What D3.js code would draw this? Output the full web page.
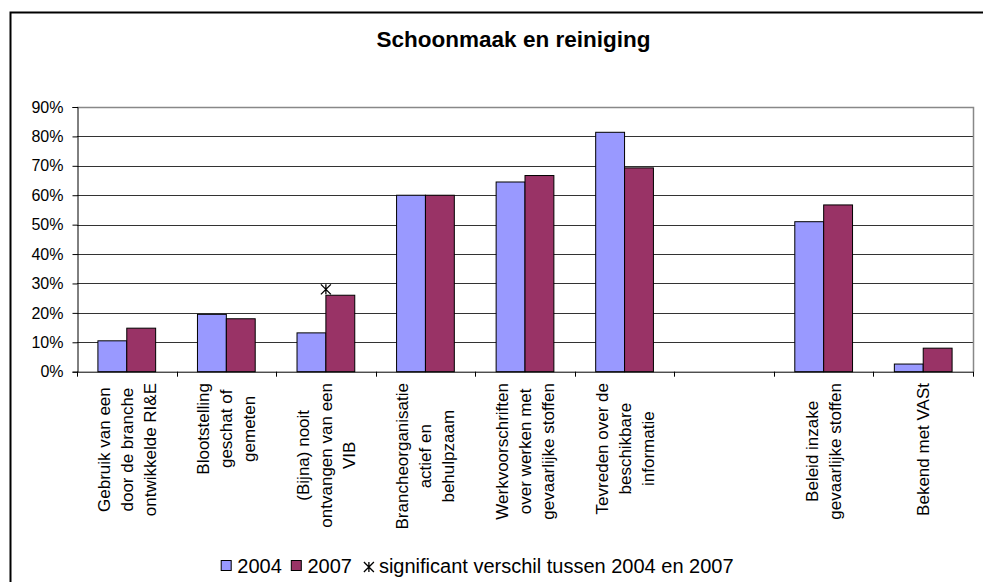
<html>
<head>
<title>Schoonmaak en reiniging</title>
<script src="https://d3js.org/d3.v7.min.js"></script>
<style>
  body { margin: 0; background: #fff; }
  text { font-family: "Liberation Sans", Arial, sans-serif; fill: #000; }
</style>
</head>
<body>
<div id="chart"></div>
<script>
// categories: each entry is the wrapped label lines
var categories = [
  ["Gebruik van een", "door de branche", "ontwikkelde RI&E"],
  ["Blootstelling", "geschat of", "gemeten"],
  ["(Bijna) nooit", "ontvangen van een", "VIB"],
  ["Brancheorganisatie", "actief en", "behulpzaam"],
  ["Werkvoorschriften", "over werken met", "gevaarlijke stoffen"],
  ["Tevreden over de", "beschikbare", "informatie"],
  [""],
  ["Beleid inzake", "gevaarlijke stoffen"],
  ["Bekend met VASt"]
];
var values2004 = [10.5, 19.5, 13.2, 60, 64.5, 81.4, null, 51, 2.6];
var values2007 = [14.8, 18, 26, 60, 66.7, 69.3, null, 56.7, 8];
// significant difference marker (percent position)
var significant = [null, null, 28, null, null, null, null, null, null];
var yTicks = [0, 10, 20, 30, 40, 50, 60, 70, 80, 90];
var seriesNames = ["2004", "2007"];
var colors = ["#9999FF", "#993366"];

var width = 983, height = 582;
var plot = {left: 77, right: 973, top: 107, bottom: 371.7};

var svg = d3.select("#chart").append("svg")
  .attr("width", width)
  .attr("height", height);

// outer chart border (right and bottom are off the picture)
svg.append("rect")
  .attr("x", 10.5).attr("y", 12.5)
  .attr("width", 1020).attr("height", 600)
  .attr("fill", "none").attr("stroke", "#000").attr("stroke-width", 2);

// title
svg.append("text")
  .attr("x", 513.5).attr("y", 47)
  .attr("text-anchor", "middle")
  .style("font-size", "22.5px").style("font-weight", "bold")
  .text("Schoonmaak en reiniging");

var x = d3.scaleBand()
  .domain(d3.range(categories.length))
  .range([plot.left, plot.right]);

var y = d3.scaleLinear()
  .domain([0, 90])
  .range([plot.bottom, plot.top]);

// gridlines
svg.append("g").selectAll("line")
  .data(yTicks.slice(1, -1))
  .enter().append("line")
  .attr("x1", plot.left).attr("x2", plot.right)
  .attr("y1", function(d) { return Math.round(y(d)) + 0.5; })
  .attr("y2", function(d) { return Math.round(y(d)) + 0.5; })
  .attr("stroke", "#333").attr("stroke-width", 1);

// plot area border (top and right)
svg.append("path")
  .attr("d", "M" + plot.left + "," + (y(90) + 0.5) + "H" + (plot.right + 0.5) + "V" + plot.bottom)
  .attr("fill", "none").attr("stroke", "#888").attr("stroke-width", 1.5);

// bars
var bw = x.bandwidth();
var barW = bw * 0.29;
var series = [values2004, values2007];
series.forEach(function(vals, s) {
  svg.append("g").selectAll("rect")
    .data(vals.map(function(v, i) { return {i: i, v: v}; }).filter(function(d) { return d.v != null; }))
    .enter().append("rect")
    .attr("x", function(d) { return x(d.i) + bw / 2 - barW + s * barW; })
    .attr("y", function(d) { return y(d.v); })
    .attr("width", barW)
    .attr("height", function(d) { return y(0) - y(d.v); })
    .attr("fill", colors[s])
    .attr("stroke", "#000").attr("stroke-width", 1);
});

// y axis
var yAxis = d3.axisLeft(y)
  .tickValues(yTicks)
  .tickSize(5)
  .tickPadding(9)
  .tickFormat(function(d) { return d + "%"; });
var gy = svg.append("g")
  .attr("transform", "translate(" + (plot.left + 0.5) + ",0)")
  .call(yAxis);
gy.select(".domain").attr("stroke", "#000");
gy.selectAll(".tick line").attr("stroke", "#000");
gy.selectAll("text")
  .style("font-size", "16px")
  .style("font-family", "'Liberation Sans', Arial, sans-serif");

// x axis baseline and boundary ticks
svg.append("line")
  .attr("x1", plot.left).attr("x2", plot.right + 0.5)
  .attr("y1", plot.bottom + 0.5).attr("y2", plot.bottom + 0.5)
  .attr("stroke", "#000");
var bounds = d3.range(categories.length + 1).map(function(i) {
  return i < categories.length ? x(i) : x(i - 1) + bw;
});
svg.append("g").selectAll("line")
  .data(bounds)
  .enter().append("line")
  .attr("x1", function(d) { return Math.round(d) + 0.5; })
  .attr("x2", function(d) { return Math.round(d) + 0.5; })
  .attr("y1", plot.bottom).attr("y2", plot.bottom + 5)
  .attr("stroke", "#000");

// category labels, rotated, lines centred, block hanging from the axis
var lineH = 23;
var labelTop = 383;
categories.forEach(function(lines, i) {
  var g = svg.append("g");
  var cx = x(i) + bw / 2;
  var texts = lines.map(function(l, k) {
    return g.append("text")
      .style("font-size", "17px")
      .attr("text-anchor", "middle")
      .text(l);
  });
  var maxLen = d3.max(texts, function(t) { return t.node().getComputedTextLength(); });
  texts.forEach(function(t, k) {
    var bx = cx + (k - (lines.length - 1) / 2) * lineH + 6;
    var by = labelTop + maxLen / 2;
    t.attr("transform", "translate(" + bx + "," + by + ") rotate(-90)");
  });
});

// significance marker
function starPath(r) {
  return "M" + (-r) + "," + (-r) + "L" + r + "," + r +
         "M" + (-r) + "," + r + "L" + r + "," + (-r) +
         "M0," + (-r) + "L0," + r;
}
svg.append("g").selectAll("path")
  .data(significant.map(function(v, i) { return {i: i, v: v}; }).filter(function(d) { return d.v != null; }))
  .enter().append("path")
  .attr("transform", function(d) { return "translate(" + (x(d.i) + bw / 2) + "," + y(d.v) + ")"; })
  .attr("d", starPath(5))
  .attr("fill", "none").attr("stroke", "#000").attr("stroke-width", 1.3);

// legend
var legend = svg.append("g");
var lx = 220.7, ly = 566;
seriesNames.forEach(function(name, s) {
  legend.append("rect")
    .attr("x", lx + 0.5).attr("y", ly - 5.5)
    .attr("width", 10).attr("height", 10)
    .attr("fill", colors[s]).attr("stroke", "#000");
  var t = legend.append("text")
    .attr("x", lx + 16.6).attr("y", ly + 6.5)
    .style("font-size", "20px")
    .text(name);
  lx = lx + 16.6 + t.node().getComputedTextLength() + 9;
});
legend.append("path")
  .attr("transform", "translate(" + (lx + 8) + "," + (ly + 1) + ")")
  .attr("d", starPath(5))
  .attr("fill", "none").attr("stroke", "#000").attr("stroke-width", 1.3);
legend.append("text")
  .attr("x", lx + 18).attr("y", ly + 6.5)
  .style("font-size", "20px")
  .text("significant verschil tussen 2004 en 2007");
</script>
</body>
</html>
